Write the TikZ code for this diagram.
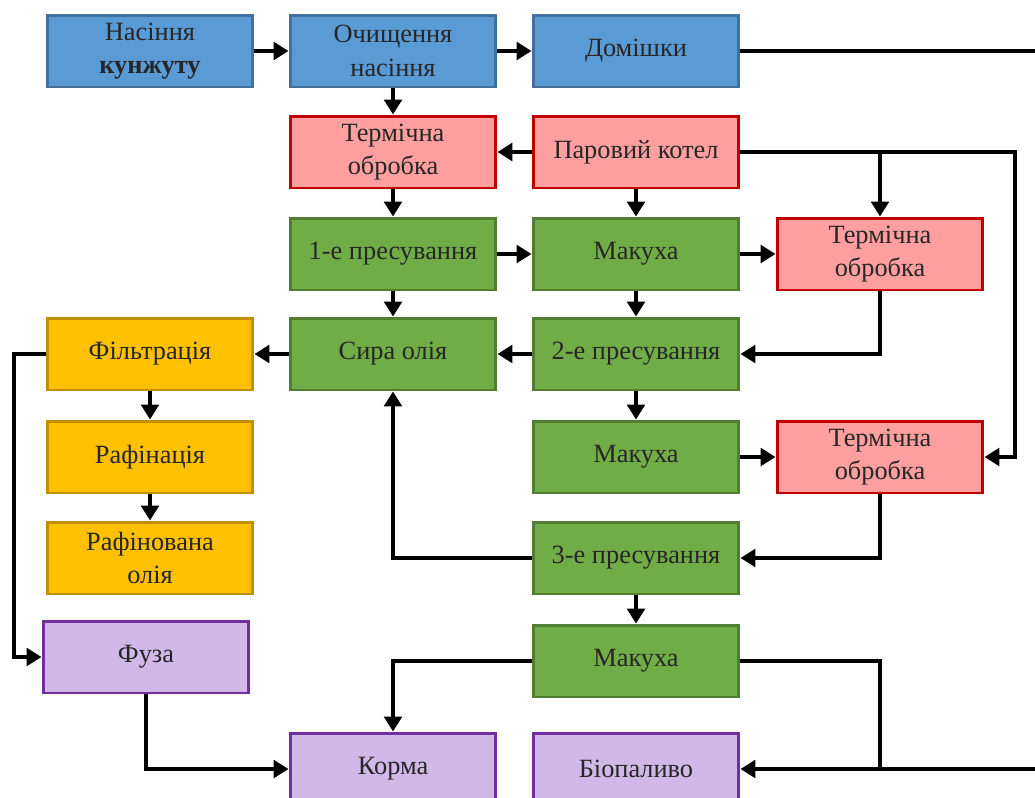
\documentclass[tikz,border=0pt]{standalone}
\usepackage{fontspec}
\setmainfont{Liberation Serif}
\usetikzlibrary{arrows.meta}

\definecolor{bluefill}{HTML}{5B9BD5}
\definecolor{blueline}{HTML}{41719C}
\definecolor{redfill}{HTML}{FF9F9F}
\definecolor{redline}{HTML}{C00000}
\definecolor{greenfill}{HTML}{70AD47}
\definecolor{greenline}{HTML}{507E32}
\definecolor{yellowfill}{HTML}{FFC000}
\definecolor{yellowline}{HTML}{BF9000}
\definecolor{violetfill}{HTML}{D1B8E8}
\definecolor{violetline}{HTML}{7030A0}

\tikzset{
  box/.style={rectangle, line width=1.7pt, minimum width=4.12cm, minimum height=1.44cm,
    align=center, inner sep=2pt, font=\fontsize{15}{19}\selectfont, text=black!85},
  bluebox/.style={box, fill=bluefill, draw=blueline},
  redbox/.style={box, fill=redfill, draw=redline},
  greenbox/.style={box, fill=greenfill, draw=greenline},
  yellowbox/.style={box, fill=yellowfill, draw=yellowline},
  violetbox/.style={box, fill=violetfill, draw=violetline},
  flow/.style={line width=2.3pt, -{Triangle[length=8.5pt, width=10pt]}},
  line/.style={line width=2.3pt}
}

\begin{document}
\begin{tikzpicture}[x=0.02cm, y=-0.02cm]
\useasboundingbox (0,0) rectangle (1035,798);
\clip (0,0) rectangle (1035,798);

% top row
\node [bluebox] (seed) at (150,51) {Насіння\\\textbf{кунжуту}};
\node [bluebox] (clean) at (393,51) {Очищення\\насіння};
\node [bluebox] (impur) at (636,51) {Домішки};
\coordinate (impurout) at (1040,51);

% heating and pressing
\node [redbox] (heat1) at (393,152) {Термічна\\обробка};
\node [redbox] (boiler) at (636,152) {Паровий котел};
\node [greenbox] (press1) at (393,254) {1-е пресування};
\node [greenbox] (cake1) at (636,254) {Макуха};
\node [redbox] (heat2) at (880,254) {Термічна\\обробка};
\node [greenbox] (oil) at (393,354) {Сира олія};
\node [greenbox] (press2) at (636,354) {2-е пресування};
\node [greenbox] (cake2) at (636,457) {Макуха};
\node [redbox] (heat3) at (880,457) {Термічна\\обробка};
\node [greenbox] (press3) at (636,558) {3-е пресування};
\node [greenbox] (cake3) at (636,661) {Макуха};

% oil treatment
\node [yellowbox] (filter) at (150,354) {Фільтрація};
\node [yellowbox] (refine) at (150,457) {Рафінація};
\node [yellowbox] (refoil) at (150,558) {Рафінована\\олія};

% products
\node [violetbox] (fuz) at (146,657) {Фуза};
\node [violetbox] (feed) at (393,769) {Корма};
\node [violetbox] (fuel) at (636,769) {Біопаливо};
\coordinate (fuelin) at (1040,769);
\coordinate (steamright) at (1015,152);
\coordinate (cakejoin) at (880,769);

\draw [flow] (seed) -- (clean);
\draw [flow] (clean) -- (impur);
\draw [line] (impur) -- (impurout);
\draw [flow] (clean) -- (heat1);
\draw [flow] (boiler) -- (heat1);
\draw [flow] (boiler) -- (cake1);
\draw [flow] (boiler.east) -- (steamright) |- (heat3.east);
\draw [flow] (boiler.east -| heat2.north) -- (heat2.north);
\draw [flow] (heat1) -- (press1);
\draw [flow] (press1) -- (cake1);
\draw [flow] (cake1) -- (heat2);
\draw [flow] (press1) -- (oil);
\draw [flow] (cake1) -- (press2);
\draw [flow] (heat2.south) |- (press2.east);
\draw [flow] (press2) -- (oil);
\draw [flow] (oil) -- (filter);
\draw [flow] (filter) -- (refine);
\draw [flow] (refine) -- (refoil);
\draw [flow] (filter.west) -- ++(-32,0) |- (fuz.west);
\draw [flow] (press2) -- (cake2);
\draw [flow] (cake2) -- (heat3);
\draw [flow] (heat3.south) |- (press3.east);
\draw [flow] (press3.west) -| (oil.south);
\draw [flow] (press3) -- (cake3);
\draw [flow] (cake3.west) -| (feed.north);
\draw [line] (cake3.east) -| (cakejoin);
\draw [flow] (fuelin) -- (fuel.east);
\draw [flow] (fuz.south) |- (feed.west);

\end{tikzpicture}
\end{document}
